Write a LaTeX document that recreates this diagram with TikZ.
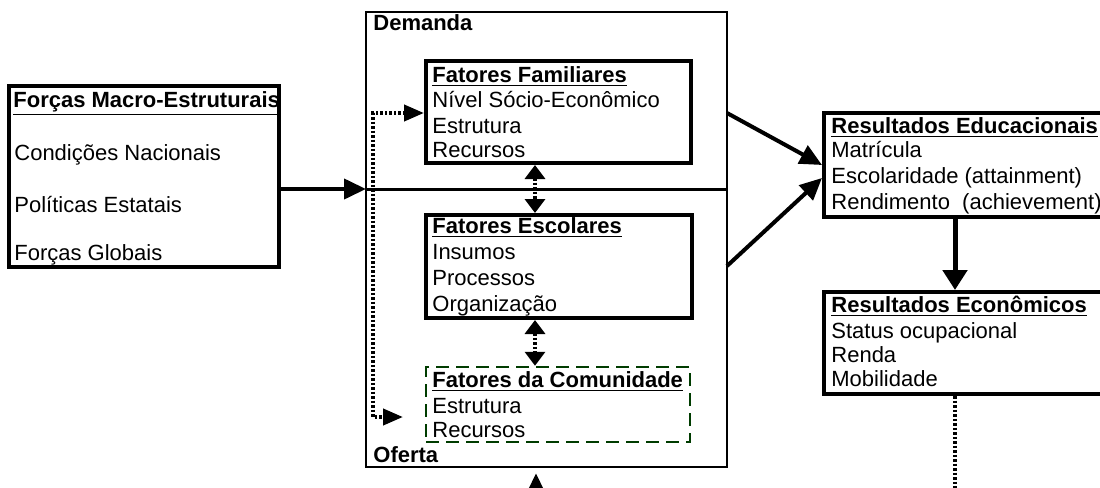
\documentclass[tikz,border=0pt]{standalone}
\usepackage{fontspec}
\setmainfont{Liberation Sans}
\usetikzlibrary{arrows.meta, fit, calc}
\definecolor{comgreen}{RGB}{0,60,0}
\tikzset{
    every node/.style = {
        font=\fontsize{11}{13}\selectfont
    },
    box/.style = {
        draw,
        line width=2pt,
        inner sep=0pt
    },
    dashbox/.style = {
        draw=comgreen,
        line width=1.25pt,
        dash pattern=on 6.5pt off 3.5pt,
        inner sep=0pt
    },
    line/.style = {
        anchor=base west,
        inner sep=0pt
    },
    head/.style = {
        line,
        font=\bfseries\fontsize{11}{13}\selectfont
    },
    conn/.style = {
        line width=2pt,
        -{Triangle[length=11pt, width=10pt]}
    },
    dots/.style = {
        line width=2pt,
        dash pattern=on 1.25pt off 1pt
    },
    tip/.style = {
        {Triangle[length=7pt, width=10pt]}-{Triangle[length=7pt, width=10pt]}
    },
    fbtip/.style = {
        {Triangle[length=10pt, width=8pt]}-{Triangle[length=10pt, width=8pt]}
    }
}

\begin{document}
\begin{tikzpicture}[x=0.5pt, y=-0.5pt]
    \clip (0,0) rectangle (1100,488);
    % boxes
    \node (macro) [box, fit={(9,86) (279,267)}] {};
    \node (big) [draw, line width=1.25pt, inner sep=0pt, fit={(366,12) (727,467)}] {};
    \node (fam) [box, fit={(426,61) (691,163)}] {};
    \node (esc) [box, fit={(426,215) (692,318)}] {};
    \node (com) [dashbox, fit={(426,367) (690,442)}] {};
    \node (edu) [box, fit={(824,113) (1112,217)}] {};
    \node (eco) [box, fit={(824,292) (1112,394)}] {};

    % texts
    \node[head] (dem) at (373,30) {Demanda};
    \node[head] (ofe) at (373,462) {Oferta};
    \node[head] (macrot) at (13,107) {\underline{Forças Macro-Estruturais}};
    \foreach \y/\t [count=\i] in {160/Condições Nacionais, 212/Políticas Estatais, 260/Forças Globais}{
        \node[line] (macro\i) at (14,\y) {\t};
    }
    \node[head] (famt) at (432,82) {\underline{Fatores Familiares}};
    \foreach \y/\t [count=\i] in {107/Nível Sócio-Econômico, 133/Estrutura, 157/Recursos}{
        \node[line] (fam\i) at (432,\y) {\t};
    }
    \node[head] (esct) at (432,233) {\underline{Fatores Escolares}};
    \foreach \y/\t [count=\i] in {259/Insumos, 285/Processos, 311/Organização}{
        \node[line] (esc\i) at (432,\y) {\t};
    }
    \node[head] (comt) at (432,387) {\underline{Fatores da Comunidade}};
    \foreach \y/\t [count=\i] in {413/Estrutura, 437/Recursos}{
        \node[line] (com\i) at (432,\y) {\t};
    }
    \node[head] (edut) at (831,133) {\underline{Resultados Educacionais}};
    \foreach \y/\t [count=\i] in {157/Matrícula, 183/Escolaridade (attainment), 209/Rendimento\ \ (achievement)}{
        \node[line] (edu\i) at (831,\y) {\t};
    }
    \node[head] (ecot) at (831,312) {\underline{Resultados Econômicos}};
    \foreach \y/\t [count=\i] in {338/Status ocupacional, 362/Renda, 386/Mobilidade}{
        \node[line] (eco\i) at (831,\y) {\t};
    }

    % connectors
    \coordinate (div) at (366,189);
    \draw[conn] (macro.east |- div) -- (div);
    \draw[line width=1.5pt] (div) -- (div -| big.east);
    \coordinate (demout) at (727,113);
    \coordinate (ofeout) at (727,266);
    \draw[conn] (demout) -- (edu.west);
    \draw[conn] (ofeout) -- ($(edu.west)+(0,13)$);
    \coordinate (mid) at (535,0);
    \draw[dots, tip] (fam.south -| mid) -- (esc.north -| mid);
    \draw[dots, tip] (esc.south -| mid) -- (com.north -| mid);
    \coordinate (fb) at (373,113);
    \coordinate (fbend) at (403,417);
    \draw[dots, fbtip] (fam.west |- fb) -| (fbend -| fb) -- (fbend);
    \coordinate (supin) at (536,500);
    \draw[conn, shorten >=2.5pt] (supin) -- (big.south -| supin);
    \coordinate (res) at (955,0);
    \draw[conn, line width=2.5pt, -{Triangle[length=10pt, width=12pt]}] (edu.south -| res) -- (eco.north -| res);
    \coordinate (resend) at (955,500);
    \draw[dots] (eco.south -| res) -- (resend);
\end{tikzpicture}
\end{document}
